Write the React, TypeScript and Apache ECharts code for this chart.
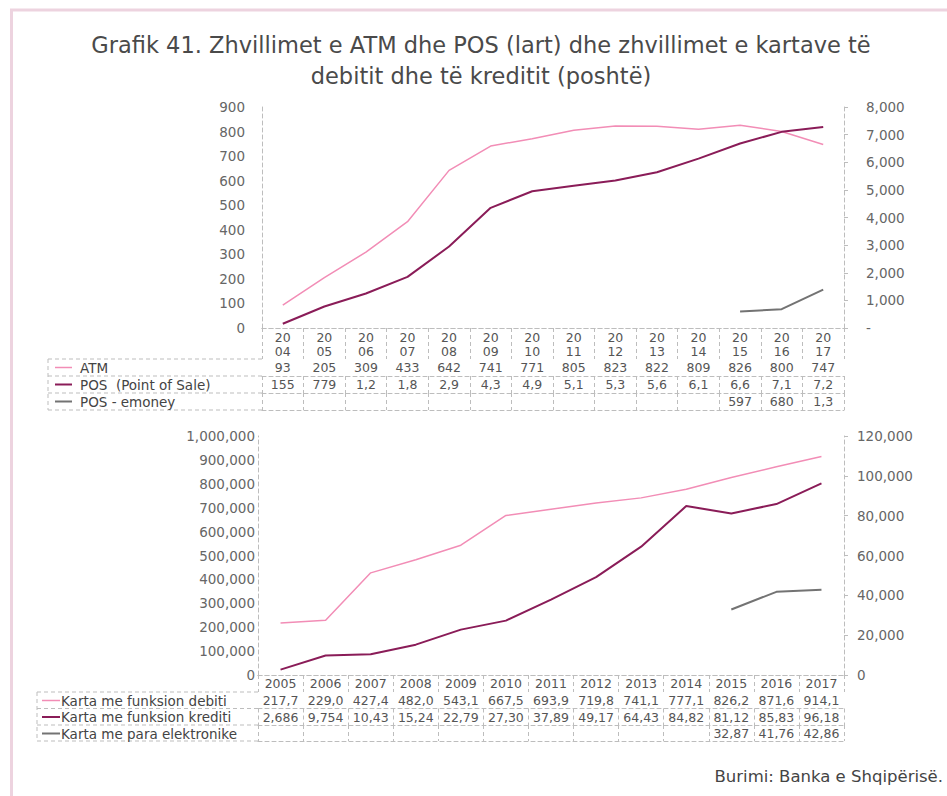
import React, { useEffect, useRef } from "react";
import * as echarts from "echarts";

const topYears = ["2004","2005","2006","2007","2008","2009","2010","2011","2012","2013","2014","2015","2016","2017"];
const atmValues = [93, 205, 309, 433, 642, 741, 771, 805, 823, 822, 809, 826, 800, 747];
const posValues = [155, 779, 1250, 1850, 2950, 4350, 4950, 5150, 5340, 5640, 6130, 6680, 7100, 7280];
const emoneyValues = [null, null, null, null, null, null, null, null, null, null, null, 597, 680, 1390];
const atmLabels = ["93","205","309","433","642","741","771","805","823","822","809","826","800","747"];
const posLabels = ["155","779","1,2","1,8","2,9","4,3","4,9","5,1","5,3","5,6","6,1","6,6","7,1","7,2"];
const emoneyLabels = ["","","","","","","","","","","","597","680","1,3"];

const botYears = ["2005","2006","2007","2008","2009","2010","2011","2012","2013","2014","2015","2016","2017"];
const debitValues = [217700, 229000, 427400, 482000, 543100, 667500, 693900, 719800, 741100, 777100, 826200, 871600, 914100];
const creditValues = [2686, 9754, 10430, 15240, 22790, 27300, 37890, 49170, 64430, 84820, 81120, 85830, 96180];
const elecValues = [null, null, null, null, null, null, null, null, null, null, 32870, 41760, 42860];
const debitLabels = ["217,7","229,0","427,4","482,0","543,1","667,5","693,9","719,8","741,1","777,1","826,2","871,6","914,1"];
const creditLabels = ["2,686","9,754","10,43","15,24","22,79","27,30","37,89","49,17","64,43","84,82","81,12","85,83","96,18"];
const elecLabels = ["","","","","","","","","","","32,87","41,76","42,86"];

const FONT = "DejaVu Sans";
const PINK = "#F28DB6";
const DARK = "#8A1C58";
const GRAY = "#737373";
const TXT = "#555";
const DASH = { color: "#bdbdbd", width: 1, type: [4, 3] as any };

function rowAxis(gridIndex: number, data: string[], labels: string[] | null, offset: number, tickLen: number, margin: number, lineHeight = 13) {
  return {
    type: "category",
    gridIndex,
    position: "bottom",
    offset,
    data,
    boundaryGap: true,
    axisLine: { show: true, lineStyle: DASH },
    axisTick: { show: tickLen > 0, interval: 0, length: tickLen, lineStyle: DASH },
    axisLabel: {
      show: labels !== null,
      interval: 0,
      margin,
      fontSize: 12.5,
      lineHeight,
      color: TXT,
      fontFamily: FONT,
      formatter: (_v: string, i: number) => (labels ? labels[i] : ""),
    },
    splitLine: { show: false },
  };
}

const fmt = (v: number) => v.toLocaleString("en-US");

export default function App() {
  const ref = useRef<HTMLDivElement>(null);
  useEffect(() => {
    const chart = echarts.init(ref.current!, null, { renderer: "svg" });
    const topYearLabels = topYears.map((y) => y.slice(0, 2) + "\n" + y.slice(2));
    const legendLine = (x1: number, x2: number, y: number, color: string, w: number) => ({
      type: "line", shape: { x1, y1: y, x2, y2: y }, style: { stroke: color, lineWidth: w },
    });
    const legendText = (x: number, y: number, text: string) => ({
      type: "text", x, y, style: { text, fontSize: 13.5, fill: "#444", fontFamily: FONT, verticalAlign: "middle", align: "left" },
    });
    const hLine = (x1: number, x2: number, y: number) => ({
      type: "line", shape: { x1, y1: y, x2, y2: y }, style: { stroke: "#bdbdbd", lineWidth: 1, lineDash: [4, 3] },
    });
    const vLine = (x: number, y1: number, y2: number) => ({
      type: "line", shape: { x1: x, y1, x2: x, y2 }, style: { stroke: "#bdbdbd", lineWidth: 1, lineDash: [4, 3] },
    });
    const titleText = (y: number, text: string) => ({
      type: "text", x: 481, y, style: { text, fontSize: 22.5, fill: "#4a4a4a", fontFamily: FONT, align: "center", verticalAlign: "middle" },
    });

    chart.setOption({
      animation: false,
      backgroundColor: "#fff",
      grid: [
        { left: 262, right: 103, top: 107, bottom: 796 - 328, containLabel: false },
        { left: 258, right: 103, top: 436, bottom: 796 - 675, containLabel: false },
      ],
      xAxis: [
        rowAxis(0, topYears, topYearLabels, 0, 31, 3, 13.5),
        rowAxis(0, topYears, atmLabels, 31, 17, 2),
        rowAxis(0, topYears, posLabels, 48, 17, 2),
        rowAxis(0, topYears, emoneyLabels, 65, 17, 2),
        rowAxis(0, topYears, null, 82, 0, 2),
        rowAxis(1, botYears, botYears, 0, 17, 2),
        rowAxis(1, botYears, debitLabels, 17, 16.5, 2),
        rowAxis(1, botYears, creditLabels, 33.5, 16.5, 2),
        rowAxis(1, botYears, elecLabels, 50, 16, 2),
        rowAxis(1, botYears, null, 66, 0, 2),
      ],
      yAxis: [
        {
          type: "value", gridIndex: 0, position: "left", min: 0, max: 900, interval: 100,
          axisLine: { show: true, lineStyle: DASH }, axisTick: { show: false }, splitLine: { show: false },
          axisLabel: { margin: 17, fontSize: 13.5, color: "#666", fontFamily: FONT },
        },
        {
          type: "value", gridIndex: 0, position: "right", min: 0, max: 8000, interval: 1000,
          axisLine: { show: true, lineStyle: DASH }, axisTick: { show: true, length: 4, lineStyle: { color: "#bdbdbd" } }, splitLine: { show: false },
          axisLabel: { margin: 22, fontSize: 13.5, color: "#666", fontFamily: FONT, formatter: (v: number) => (v === 0 ? "-" : fmt(v)) },
        },
        {
          type: "value", gridIndex: 1, position: "left", min: 0, max: 1000000, interval: 100000,
          axisLine: { show: true, lineStyle: DASH }, axisTick: { show: false }, splitLine: { show: false },
          axisLabel: { margin: 3, fontSize: 13.5, color: "#666", fontFamily: FONT, formatter: (v: number) => fmt(v) },
        },
        {
          type: "value", gridIndex: 1, position: "right", min: 0, max: 120000, interval: 20000,
          axisLine: { show: true, lineStyle: DASH }, axisTick: { show: true, length: 4, lineStyle: { color: "#bdbdbd" } }, splitLine: { show: false },
          axisLabel: { margin: 13, fontSize: 13.5, color: "#666", fontFamily: FONT, formatter: (v: number) => fmt(v) },
        },
      ],
      series: [
        { name: "ATM", type: "line", xAxisIndex: 0, yAxisIndex: 0, data: atmValues, showSymbol: false, lineStyle: { color: PINK, width: 1.5 }, itemStyle: { color: PINK } },
        { name: "POS (Point of Sale)", type: "line", xAxisIndex: 0, yAxisIndex: 1, data: posValues, showSymbol: false, lineStyle: { color: DARK, width: 2 }, itemStyle: { color: DARK } },
        { name: "POS - emoney", type: "line", xAxisIndex: 0, yAxisIndex: 1, data: emoneyValues, showSymbol: false, connectNulls: false, lineStyle: { color: GRAY, width: 2 }, itemStyle: { color: GRAY } },
        { name: "Karta me funksion debiti", type: "line", xAxisIndex: 5, yAxisIndex: 2, data: debitValues, showSymbol: false, lineStyle: { color: PINK, width: 1.5 }, itemStyle: { color: PINK } },
        { name: "Karta me funksion krediti", type: "line", xAxisIndex: 5, yAxisIndex: 3, data: creditValues, showSymbol: false, lineStyle: { color: DARK, width: 2 }, itemStyle: { color: DARK } },
        { name: "Karta me para elektronike", type: "line", xAxisIndex: 5, yAxisIndex: 3, data: elecValues, showSymbol: false, lineStyle: { color: GRAY, width: 2 }, itemStyle: { color: GRAY } },
      ],
      graphic: [
        { type: "rect", shape: { x: 11.5, y: 10, width: 1000, height: 900 }, style: { fill: "none", stroke: "#EDD3DF", lineWidth: 3 }, silent: true },
        titleText(45, "Grafik 41. Zhvillimet e ATM dhe POS (lart) dhe zhvillimet e kartave të"),
        titleText(76, "debitit dhe të kreditit (poshtë)"),
        hLine(48, 262, 359), hLine(48, 262, 376), hLine(48, 262, 393), hLine(48, 262, 410), vLine(48, 359, 410),
        legendLine(55, 72, 367.5, PINK, 1.5), legendText(80, 367.5, "ATM"),
        legendLine(55, 72, 384.5, DARK, 2), legendText(80, 384.5, "POS  (Point of Sale)"),
        legendLine(55, 72, 401.5, GRAY, 2), legendText(80, 401.5, "POS - emoney"),
        hLine(37, 258, 692), hLine(37, 258, 708.5), hLine(37, 258, 725), hLine(37, 258, 741), vLine(37, 692, 741),
        legendLine(42, 60, 700.5, PINK, 1.5), legendText(61, 700.5, "Karta me funksion debiti"),
        legendLine(42, 60, 717, DARK, 2), legendText(61, 717, "Karta me funksion krediti"),
        legendLine(42, 60, 733.5, GRAY, 2), legendText(61, 733.5, "Karta me para elektronike"),
        { type: "text", x: 943, y: 776, style: { text: "Burimi: Banka e Shqipërisë.", fontSize: 16.5, fill: "#444", fontFamily: FONT, align: "right", verticalAlign: "middle" } },
      ],
    });
    return () => chart.dispose();
  }, []);
  return <div ref={ref} style={{ position: "fixed", left: 0, top: 0, width: 947, height: 796 }} />;
}
